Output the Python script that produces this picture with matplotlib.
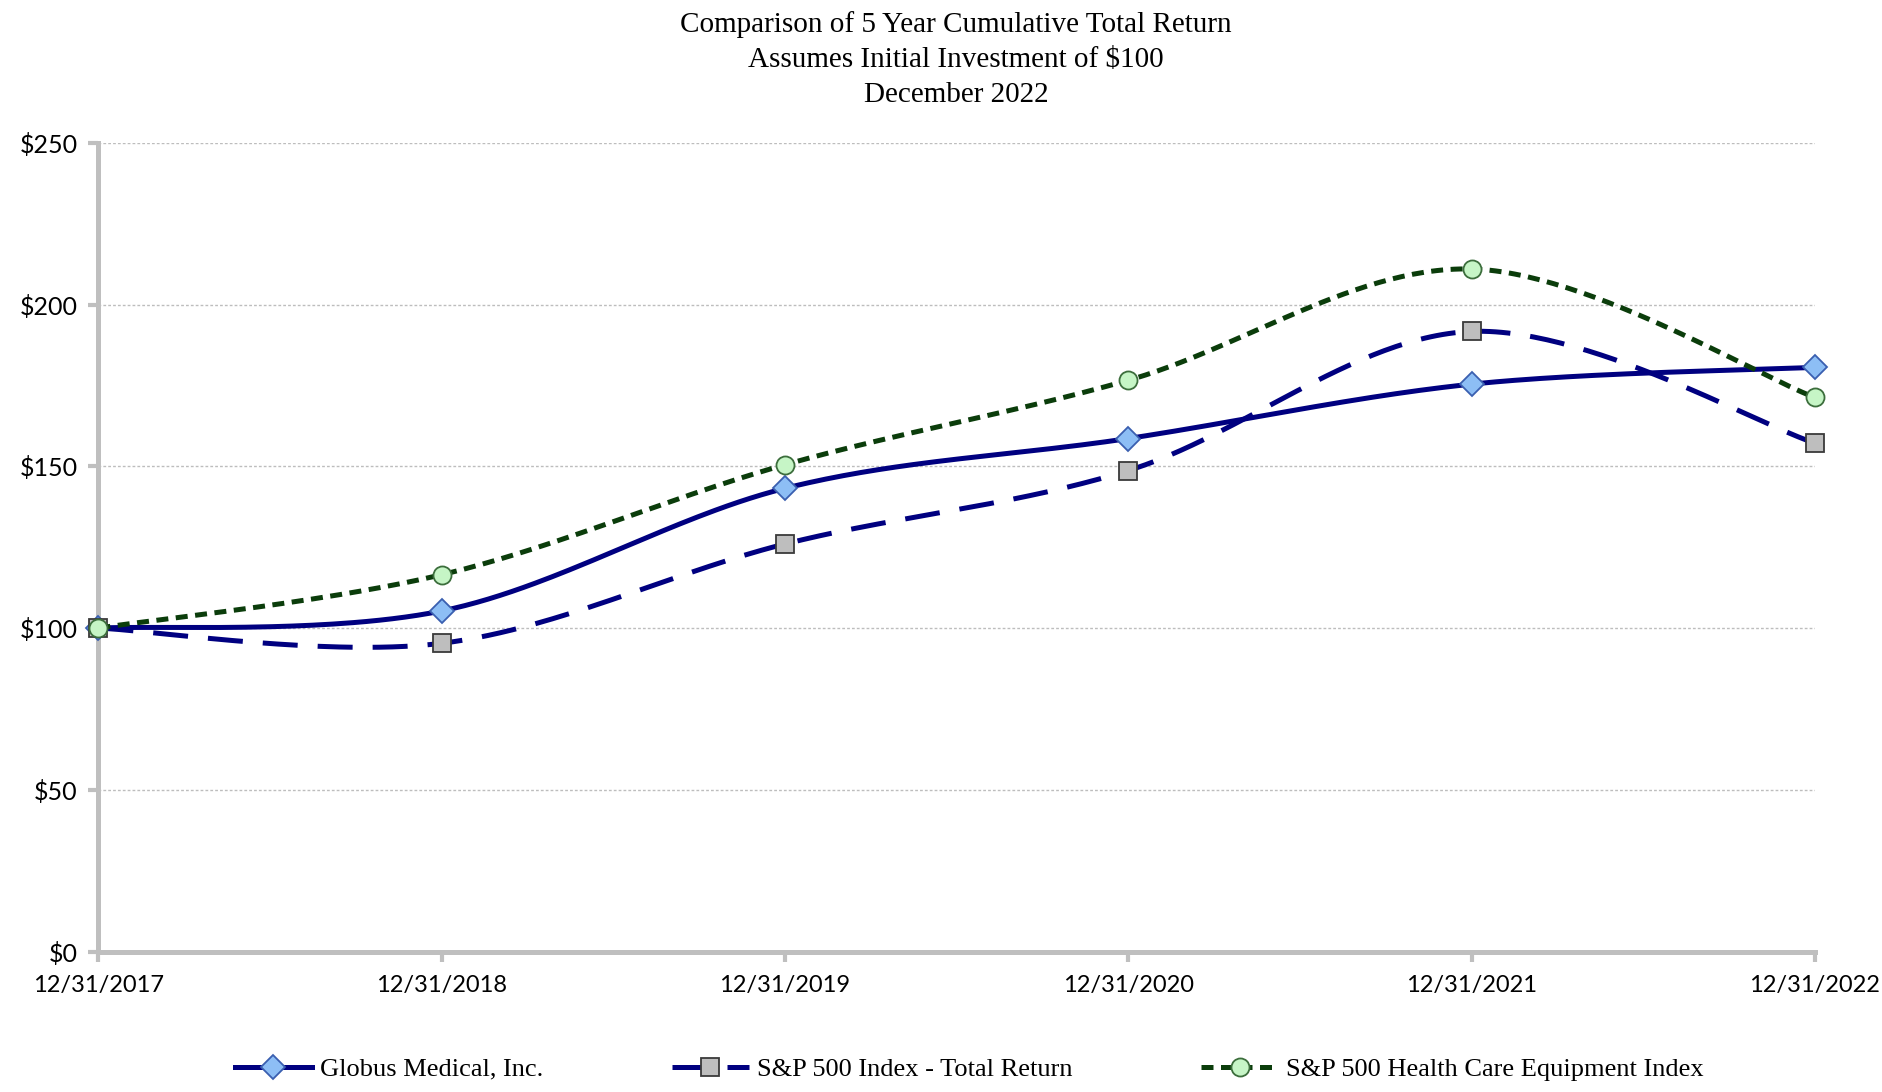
import numpy as np
import matplotlib.pyplot as plt
from matplotlib.lines import Line2D

dates = ['12/31/2017', '12/31/2018', '12/31/2019', '12/31/2020', '12/31/2021', '12/31/2022']
globus = [100, 105.3, 143.2, 158.6, 175.4, 180.6]
sp500 = [100, 95.3, 126.0, 148.7, 191.7, 157.2]
hc_equip = [100, 116.5, 150.5, 176.6, 211.0, 171.3]
yticks = [0, 50, 100, 150, 200, 250]


def smooth(y, n=60):
    # Excel-like smoothed line: cubic Bezier with Catmull-Rom control points
    y = np.asarray(y, dtype=float)
    x = np.arange(len(y), dtype=float)
    px = np.concatenate([[x[0]], x, [x[-1]]])
    py = np.concatenate([[y[0]], y, [y[-1]]])
    xs, ys = [], []
    t = np.linspace(0, 1, n)
    for i in range(1, len(px) - 2):
        p0 = np.array([px[i], py[i]])
        p3 = np.array([px[i + 1], py[i + 1]])
        c1 = p0 + (np.array([px[i + 1], py[i + 1]]) - np.array([px[i - 1], py[i - 1]])) / 6
        c2 = p3 - (np.array([px[i + 2], py[i + 2]]) - np.array([px[i], py[i]])) / 6
        b = ((1 - t) ** 3)[:, None] * p0 + (3 * (1 - t) ** 2 * t)[:, None] * c1 \
            + (3 * (1 - t) * t ** 2)[:, None] * c2 + (t ** 3)[:, None] * p3
        xs.append(b[:, 0])
        ys.append(b[:, 1])
    return np.concatenate(xs), np.concatenate(ys)


fig = plt.figure(figsize=(18.82, 10.92), dpi=100)
ax = fig.add_axes([0.0523, 0.1286, 0.9120, 0.7406])

serif = 'Liberation Serif'
sans = 'Lato'

series = [
    ('Globus Medical, Inc.', globus, dict(color='#000080', ls='-'),
     dict(marker='D', ms=12.5, mfc='#8DBEF5', mec='#3A5FB0')),
    ('S&P 500 Index - Total Return', sp500, dict(color='#000080', ls=(0, (7, 4))),
     dict(marker='s', ms=13, mfc='#BEBEBE', mec='#3A3A3A')),
    ('S&P 500 Health Care Equipment Index', hc_equip, dict(color='#0B3D0B', ls=(0, (2.4, 1.5))),
     dict(marker='o', ms=13, mfc='#C6F5C6', mec='#3C6E3C')),
]

handles = []
for z, (name, vals, lstyle, mstyle) in enumerate(series):
    sx, sy = smooth(vals)
    ax.plot(sx, sy, lw=3.6, zorder=3 + z, clip_on=False, **lstyle)
    ax.plot(range(len(vals)), vals, ls='none', mew=1.3, zorder=3 + z, clip_on=False, **mstyle)
    handles.append(Line2D([], [], lw=3.6, mew=1.3, label=name, **lstyle, **mstyle))

ax.set_xlim(0, len(dates) - 1)
ax.set_ylim(0, 250)
ax.set_xticks(range(len(dates)))
ax.set_xticklabels(dates, fontfamily=sans, fontsize=17)
ax.set_yticks(yticks)
ax.set_yticklabels(['$%d' % v for v in yticks], fontfamily=sans, fontsize=18)
ax.grid(axis='y', color='#BDBDBD', ls=(0, (2, 1.5)), lw=1)
ax.set_axisbelow(True)

for s in ['top', 'right']:
    ax.spines[s].set_visible(False)
for s in ['left', 'bottom']:
    ax.spines[s].set_color('#BFBFBF')
    ax.spines[s].set_linewidth(3.6)
ax.tick_params(axis='both', colors='#BFBFBF', width=3, length=7, labelcolor='black')
ax.tick_params(axis='x', pad=10)
ax.tick_params(axis='y', pad=8)

fig.text(0.508, 0.990, 'Comparison of 5 Year Cumulative Total Return\nAssumes Initial Investment of $100\nDecember 2022',
         ha='center', va='top', fontfamily=serif, fontsize=21, linespacing=1.45)

fig.legend(handles=handles, loc='center', bbox_to_anchor=(0.515, 0.021), ncol=3, frameon=False,
           prop={'family': serif, 'size': 19}, handlelength=2.9, handletextpad=0.3,
           columnspacing=4.9, numpoints=1)

fig.savefig('out.png', dpi=100)
